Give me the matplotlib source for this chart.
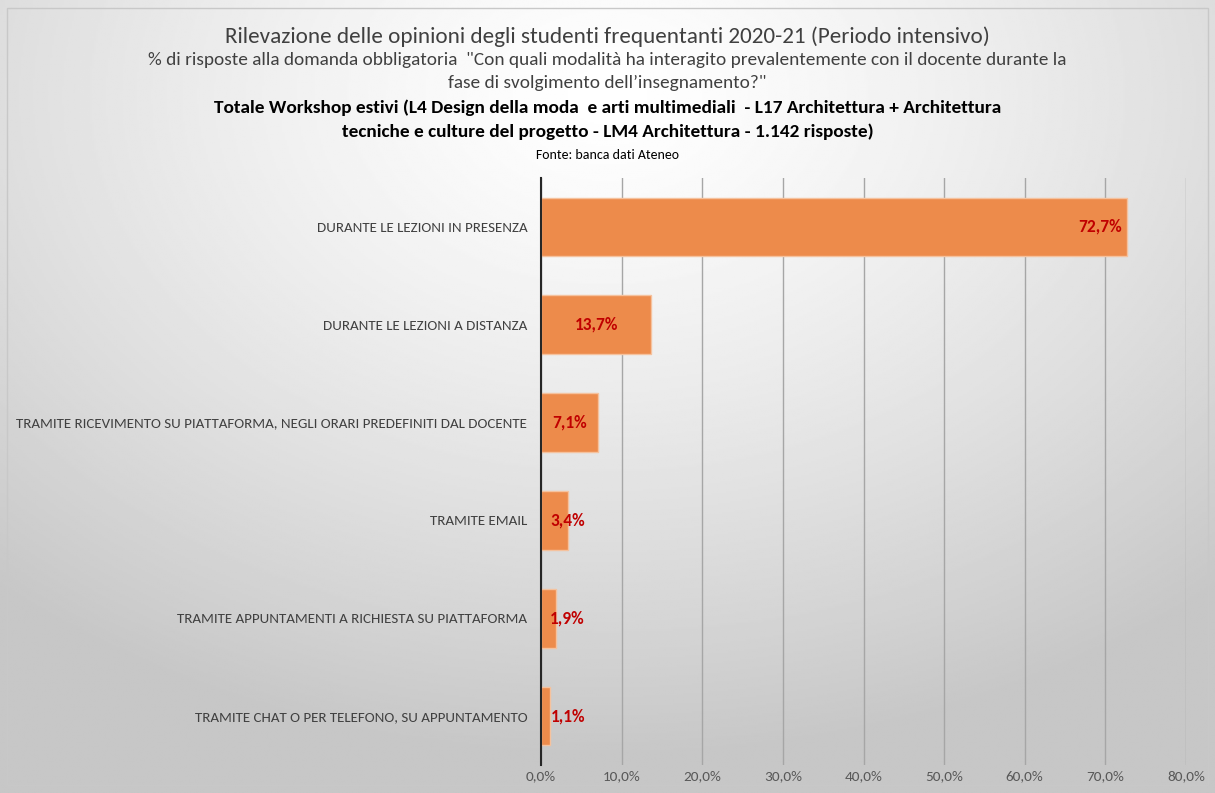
import numpy as np
import matplotlib
matplotlib.use('Agg')
import matplotlib.pyplot as plt

# data
categories = ['DURANTE LE LEZIONI IN PRESENZA',
              'DURANTE LE LEZIONI A DISTANZA',
              'TRAMITE RICEVIMENTO SU PIATTAFORMA, NEGLI ORARI PREDEFINITI DAL DOCENTE',
              'TRAMITE EMAIL',
              'TRAMITE APPUNTAMENTI A RICHIESTA SU PIATTAFORMA',
              'TRAMITE CHAT O PER TELEFONO, SU APPUNTAMENTO']
values = [72.7, 13.7, 7.1, 3.4, 1.9, 1.1]
xticks = [0, 10, 20, 30, 40, 50, 60, 70, 80]

plt.rcParams['font.family'] = ['Carlito', 'Liberation Sans Narrow', 'DejaVu Sans']

fig = plt.figure(figsize=(12.15, 7.93), dpi=100)

# radial gradient background
bg = fig.add_axes([0, 0, 1, 1], zorder=-10)
yy, xx = np.mgrid[0:1:400j, 0:1:600j]
r = np.sqrt(((xx - 0.5) * 1.0) ** 2 + ((yy - 0.12) * 0.9) ** 2)
shade = 1.0 - 0.22 * np.clip(r / 0.75, 0, 1) ** 1.3
bg.imshow(shade, cmap='gray', vmin=0, vmax=1, extent=[0, 1, 1, 0], aspect='auto')
bg.set_xlim(0, 1); bg.set_ylim(1, 0)
bg.axis('off')
bg.add_patch(plt.Rectangle((0.006, 0.01), 0.988, 0.98, fill=False, edgecolor='#c8c8c8', lw=1))

ax = fig.add_axes([0.4453, 0.0353, 0.5308, 0.7402])
ax.patch.set_alpha(0)
y = np.arange(len(categories))
ax.barh(y, values, height=0.6, color='#ED8B4B', edgecolor='#F5C29E', lw=1, zorder=3)
ax.set_ylim(len(categories) - 0.5, -0.5)
ax.set_xlim(0, 80)
ax.set_xticks(xticks)
ax.set_xticklabels(['%d,0%%' % t for t in xticks], fontsize=11, color='#595959')
ax.set_yticks(y)
ax.set_yticklabels(categories, fontsize=10.8, color='#404040')
ax.tick_params(length=0, pad=10)
ax.tick_params(axis='x', pad=4)
ax.grid(axis='x', color='#a6a6a6', lw=1, zorder=0)
for s in ['top', 'right', 'bottom']:
    ax.spines[s].set_visible(False)
ax.spines['left'].set_color('#262626')
ax.spines['left'].set_linewidth(1.5)
ax.spines['left'].set_zorder(4)

for yi, v in zip(y, values):
    lab = ('%.1f%%' % v).replace('.', ',')
    if v > 50:
        ax.text(v - 0.7, yi, lab, ha='right', va='center', color='#C00000',
                fontsize=12.5, fontweight='bold', zorder=5)
    else:
        ax.text(max(v / 2, 3.3), yi, lab, ha='center',
                va='center', color='#C00000', fontsize=12.5, fontweight='bold', zorder=5)

tc = '#404040'
fig.text(0.5, 1 - 37 / 793, 'Rilevazione delle opinioni degli studenti frequentanti 2020-21 (Periodo intensivo)',
         ha='center', va='center', fontsize=16.7, color=tc)
fig.text(0.5, 1 - 60 / 793, '% di risposte alla domanda obbligatoria  "Con quali modalità ha interagito prevalentemente con il docente durante la',
         ha='center', va='center', fontsize=13.9, color=tc)
fig.text(0.5, 1 - 83 / 793, 'fase di svolgimento dell\u2019insegnamento?"',
         ha='center', va='center', fontsize=13.9, color=tc)
fig.text(0.5, 1 - 108 / 793, 'Totale Workshop estivi (L4 Design della moda  e arti multimediali  - L17 Architettura + Architettura',
         ha='center', va='center', fontsize=13.9, color='black', fontweight='bold')
fig.text(0.5, 1 - 132 / 793, 'tecniche e culture del progetto - LM4 Architettura - 1.142 risposte)',
         ha='center', va='center', fontsize=13.9, color='black', fontweight='bold')
fig.text(0.5, 1 - 155 / 793, 'Fonte: banca dati Ateneo',
         ha='center', va='center', fontsize=10, color='black')

fig.savefig('out.png', dpi=100)
